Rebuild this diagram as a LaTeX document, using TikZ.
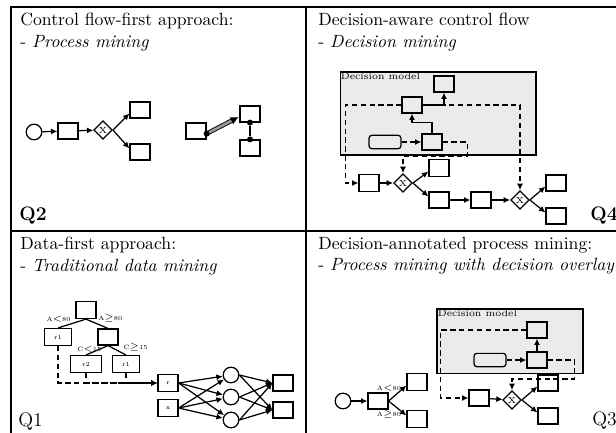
\documentclass[tikz,border=0pt]{standalone}
\usepackage{amsmath,amssymb}
\usepackage{tikz}
\usetikzlibrary{arrows.meta,positioning,shapes.geometric}

\begin{document}
\begin{tikzpicture}[
  x=0.565pt, y=-0.565pt,
  act/.style={draw, line width=0.7pt, minimum width=11.3pt, minimum height=9pt, inner sep=0pt, font=\fontsize{3.5}{4}\selectfont},
  leaf/.style={act, minimum width=15.5pt, minimum height=9.5pt},
  gw/.style={draw, diamond, aspect=1, line width=0.7pt, minimum size=10.5pt, inner sep=0pt, font=\fontsize{5}{5}\selectfont},
  ev/.style={draw, circle, line width=0.7pt, minimum size=8.8pt, inner sep=0pt},
  dat/.style={draw, rounded corners=1.5pt, line width=0.7pt, minimum width=18pt, minimum height=7.5pt, inner sep=0pt},
  dm/.style={draw, fill=black!8, line width=0.6pt, inner sep=0pt},
  dmlbl/.style={anchor=north west, inner sep=0.6pt, font=\fontsize{5.5}{6}\selectfont},
  ttl/.style={anchor=north west, align=left, inner sep=0pt},
  qlbl/.style={anchor=base west, inner sep=0pt, font=\fontsize{11}{13}\selectfont},
  elbl/.style={inner sep=0.4pt, font=\fontsize{3.5}{4}\selectfont},
  arr/.style={-{Latex[length=3.6pt,width=3.4pt]}, line width=0.7pt},
  darr/.style={arr, dash pattern=on 3pt off 2pt},
  jdot/.style={circle, fill, inner sep=0pt, minimum size=3.4pt},
  frm/.style={line width=1.1pt}]
\clip (0,0) rectangle (616,432);
% frame
\draw[frm] (11,7) rectangle (700,500);
\draw[frm] (306,7) -- (306,500);
\draw[frm] (11,231) -- (700,231);
% titles
\node[ttl] (t2) at (20,13) {Control flow-first approach:\\- \textit{Process mining}};
\node[ttl] (t4) at (318,13) {Decision-aware control flow\\- \textit{Decision mining}};
\node[ttl] (t1) at (20,237) {Data-first approach:\\- \textit{Traditional data mining}};
\node[ttl] (t3) at (318,237) {Decision-annotated process mining:\\- \textit{Process mining with decision overlay}};
\node[qlbl] (q2) at (19,220) {\textbf{Q2}};
\node[qlbl] (q4) at (590,220) {\textbf{Q4}};
\node[qlbl] (q1) at (18,426) {Q1};
\node[qlbl] (q3) at (592,425) {Q3};
% Q2: process mining
\node[ev] (s2) at (34,132) {};
\node[act] (a2) at (68,131) {};
\node[gw] (g2) at (103,130) {X};
\node[act] (b2) at (140,110) {};
\node[act] (c2) at (140,152) {};
\draw[arr] (s2) -- (a2);
\draw[arr] (a2) -- (g2);
\draw[arr] (g2.east) -- ([yshift=-2pt]b2.west);
\draw[arr] (g2.east) -- ([yshift=2pt]c2.west);
\node[act] (p2) at (196,131) {};
\node[act] (m2) at (250,114) {};
\node[act] (n2) at (250,148) {};
\draw[-{Latex[length=4.5pt,width=4.5pt]}, line width=0.5pt, double=black!40, double distance=1.5pt, shorten >=0.5pt]
  ([yshift=-1.5pt]p2.east) -- ([yshift=-1.5pt]m2.west);
\node[jdot] (p2d) at ([yshift=-1.5pt]p2.east) {};
\node[jdot] (m2d) at (m2.south) {};
\node[jdot] (n2d) at (n2.north) {};
\draw[line width=0.8pt] (m2d) -- (n2d);
% Q4: decision model
\node[dm, minimum width=110.7pt, minimum height=46.9pt] (dm4) at (438,113.5) {};
\node[dmlbl] (dl4) at (dm4.north west) {Decision model};
\node[act] (o4) at (444,84) {};
\node[act] (m4) at (412,105) {};
\node[dat] (i4) at (385,142) {};
\node[act] (k4) at (432,142) {};
\draw[darr] (i4) -- (k4);
\draw[arr] (k4.north) -- ++(0,-11) -| (m4.south);
\draw[arr] (m4.east) -| (o4.south);
% Q4: control flow
\node[act, minimum height=9.6pt] (f4) at (369,183) {};
\node[gw] (g4) at (403,183) {X};
\node[act, minimum height=9.6pt] (u4) at (439,168) {};
\node[act, minimum height=9pt] (l4) at (439,200) {};
\node[act, minimum height=9pt] (r4) at (481,200) {};
\node[gw] (h4) at (520,200) {X};
\node[act] (v4) at (556,183) {};
\node[act] (w4) at (556,216) {};
\draw[arr] (f4) -- (g4);
\draw[arr] (g4.east) -- ([yshift=-2pt]u4.west);
\draw[arr] (g4.east) -- ([yshift=2pt]l4.west);
\draw[arr] (l4) -- (r4);
\draw[arr] (r4) -- (h4);
\draw[arr] (h4.east) -- ([yshift=-2pt]v4.west);
\draw[arr] (h4.east) -- ([yshift=2pt]w4.west);
\draw[darr] (m4.west) -- ++(-56,0) |- (f4.west);
\draw[darr] (m4.east) -| (h4.north);
\draw[darr] (k4.east) -- ++(25,0) -- ++(0,14) -| (g4.north);
% Q1: decision tree
\node[act, minimum height=9.6pt] (rt1) at (86,310) {};
\node[leaf] (l1) at (58,337) {r1};
\node[act] (c1) at (108,337) {};
\node[leaf, minimum width=17.5pt] (r21) at (86,364) {r2};
\node[leaf] (r11) at (126,364) {r1};
\draw[line width=0.7pt] (rt1.south) -- (l1.north) node[pos=0.5, anchor=south east, elbl] {A{$<$}80};
\draw[line width=0.7pt] (rt1.south) -- (c1.north) node[pos=0.5, anchor=south west, elbl] {A{$\geq$}80};
\draw[line width=0.7pt] (c1.south) -- (r21.north) node[pos=0.85, anchor=south, elbl] {C{$<$}15};
\draw[line width=0.7pt] (c1.south) -- (r11.north) node[pos=0.8, anchor=south west, elbl] {C{$\geq$}15};
% Q1: neural network
\node[act, minimum height=9.6pt] (x1) at (168,383) {r};
\node[act, minimum height=9.6pt] (x2) at (168,408) {x};
\node[ev] (h1) at (231,375) {};
\node[ev] (h2) at (231,397) {};
\node[ev] (h3) at (231,420) {};
\node[act] (y1) at (283,383) {};
\node[act] (y2) at (283,410) {};
\draw[darr] (l1.south) |- (x1.west);
\draw[darr] (r21.south) |- (x1.west);
\draw[darr] (r11.south) |- (x1.west);
\draw[arr] (x1.east) -- (h1); \draw[arr] (x1.east) -- (h2); \draw[arr] (x1.east) -- (h3);
\draw[arr] (x2.east) -- (h1); \draw[arr] (x2.east) -- (h2); \draw[arr] (x2.east) -- (h3);
\draw[arr] (h1.east) -- (y1.west); \draw[arr] (h1.east) -- (y2.west);
\draw[arr] (h2.east) -- (y1.west); \draw[arr] (h2.east) -- (y2.west);
\draw[arr] (h3.east) -- (y1.west); \draw[arr] (h3.east) -- (y2.west);
% Q3: process model with decision overlay
\node[ev] (s3) at (343,401) {};
\node[act] (a3) at (378,401) {};
\node[act, minimum height=9.6pt] (b3) at (417,382) {};
\node[act, minimum height=9.6pt] (c3) at (417,419) {};
\draw[arr] (s3) -- (a3);
\draw[arr] (a3.east) -- ([yshift=-2pt]b3.west);
\draw[arr] (a3.east) -- ([yshift=2pt]c3.west);
\node[elbl] (la3) at (389,388) {A{$<$}80};
\node[elbl] (lb3) at (389,414) {A{$\geq$}80};
\node[dm, minimum width=82.5pt, minimum height=36.2pt] (dm3) at (510,341) {};
\node[dmlbl] (dl3) at (dm3.north west) {Decision model};
\node[act] (o3) at (537,330) {};
\node[dat] (i3) at (490,360) {};
\node[act] (k3) at (537,360) {};
\draw[arr] (k3) -- (o3);
\draw[darr] (i3) -- (k3);
\node[act] (f3) at (479,398) {};
\node[gw] (g3) at (512,400) {X};
\node[act] (u3) at (548,383) {};
\node[act] (w3) at (548,416) {};
\draw[arr] (f3) -- (g3);
\draw[arr] (g3.east) -- ([yshift=-2pt]u3.west);
\draw[arr] (g3.east) -- ([yshift=2pt]w3.west);
\draw[darr] (o3.west) -- ++(-86,0) |- (f3.west);
\draw[darr] (k3.east) -- ++(27,0) -- ++(0,19) -| (g3.north);
\end{tikzpicture}
\end{document}
